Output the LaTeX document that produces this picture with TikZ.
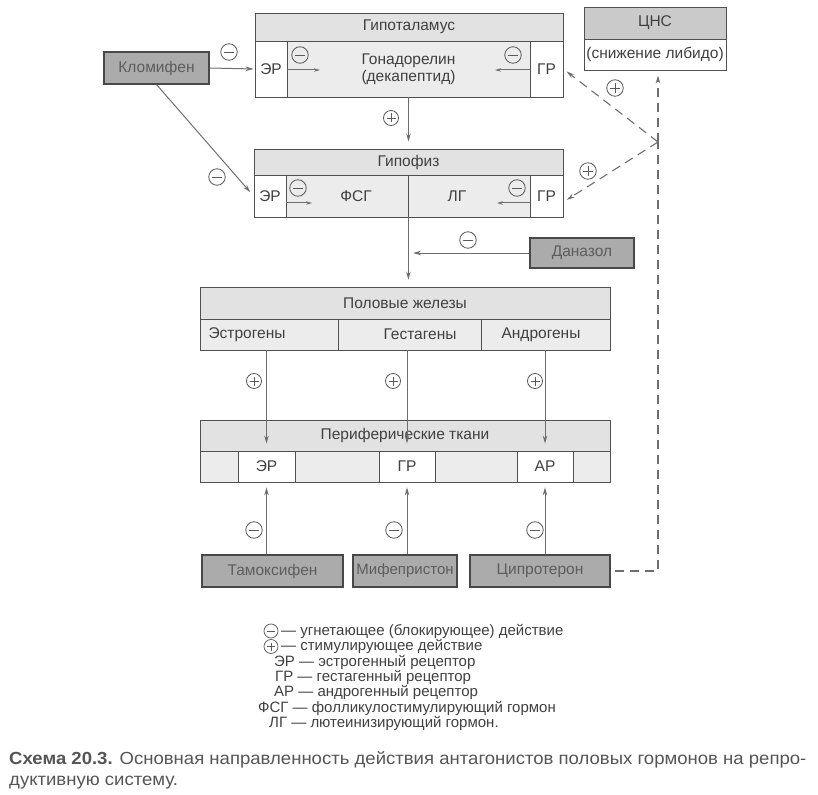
\documentclass[tikz,border=0pt]{standalone}
\usepackage{fontspec}
\setmainfont{Liberation Sans}
\newfontfamily\capfont[FakeStretch=1.06]{Liberation Sans}
\usetikzlibrary{arrows.meta,calc}
\definecolor{txt}{HTML}{404040}
\definecolor{bord}{HTML}{505050}
\definecolor{linec}{HTML}{6E6E6E}
\definecolor{sgn}{HTML}{5A5A5A}
\definecolor{hdrc}{HTML}{E2E2E2}
\definecolor{midcol}{HTML}{ECECEC}
\definecolor{drugc}{HTML}{ABABAB}
\definecolor{cnsc}{HTML}{CACACA}
\definecolor{capc}{HTML}{555555}
\begin{document}
\begin{tikzpicture}[x=1pt,y=-1pt,
  every node/.style={font=\fontsize{15.5}{17}\selectfont, text=txt},
  cellbase/.style={draw=bord, line width=0.8pt, inner sep=0pt, rectangle},
  hdr/.style={cellbase, fill=hdrc},
  midc/.style={cellbase, fill=midcol},
  recep/.style={cellbase, fill=white},
  cnsh/.style={cellbase, fill=cnsc},
  drug/.style={cellbase, fill=drugc, line width=1.1pt, draw=bord!90!black, text=txt!85},
  lbl/.style={inner sep=0pt},
  leg/.style={inner sep=0pt, font=\fontsize{15}{17}\selectfont},
  arr/.style={draw=linec, line width=1pt, -{Stealth[length=8pt,width=4.5pt]}},
  dsh/.style={draw=linec, line width=1.1pt, dash pattern=on 9pt off 6pt},
  signm/.style={circle, draw=sgn, line width=0.85pt, minimum size=16.5pt, inner sep=0pt,
    path picture={\draw[sgn, line width=0.9pt] ([xshift=3pt]path picture bounding box.west) -- ([xshift=-3pt]path picture bounding box.east);}},
  signp/.style={signm,
    path picture={\draw[sgn, line width=0.9pt] ([xshift=3pt]path picture bounding box.west) -- ([xshift=-3pt]path picture bounding box.east);
      \draw[sgn, line width=0.9pt] ([yshift=-3pt]path picture bounding box.north) -- ([yshift=3pt]path picture bounding box.south);}}
]
\useasboundingbox (0,0) rectangle (818,794);

% ---------- Hypothalamus ----------
\node[hdr, minimum width=308, minimum height=28] (hyH) at (409,27) {Гипоталамус};
\node[recep, minimum width=32, minimum height=56] (hyER) at (271,69) {ЭР};
\node[midc, minimum width=243, minimum height=56, align=center] (hyM) at (408.5,69) {Гонадорелин\\(декапептид)};
\node[recep, minimum width=33, minimum height=56] (hyGR) at (546.5,69) {ГР};

% ---------- CNS ----------
\node[cnsh, minimum width=142, minimum height=32] (cnsH) at (655,23) {ЦНС};
\node[recep, minimum width=142, minimum height=31] (cns) at (655,54.5) {(снижение либидо)};

% ---------- Hypophysis ----------
\node[hdr, minimum width=309, minimum height=26] (hpH) at (408.5,162) {Гипофиз};
\node[recep, minimum width=32, minimum height=42] (hpER) at (270,196) {ЭР};
\node[midc, minimum width=122, minimum height=42] (hpF) at (347,196) {};
\node[midc, minimum width=122, minimum height=42] (hpL) at (469,196) {};
\node[recep, minimum width=33, minimum height=42] (hpGR) at (546.5,196) {ГР};
\node[lbl] (tF) at (356,196) {ФСГ};
\node[lbl] (tL) at (457,196) {ЛГ};

% ---------- Drugs top ----------
\node[drug, minimum width=105, minimum height=32] (klom) at (156.5,68) {Кломифен};
\node[drug, minimum width=104, minimum height=30] (dan) at (582,253) {Даназол};

% ---------- Gonads ----------
\node[hdr, minimum width=410, minimum height=32] (goH) at (405,303) {Половые железы};
\node[midc, minimum width=138, minimum height=31] (goE) at (269,334.5) {};
\node[midc, minimum width=143, minimum height=31] (goG) at (409.5,334.5) {};
\node[midc, minimum width=129, minimum height=31] (goA) at (545.5,334.5) {};
\node[lbl] (tE) at (247,334.5) {Эстрогены};
\node[lbl] (tG) at (420,334.5) {Гестагены};
\node[lbl] (tA) at (541,334.5) {Андрогены};

% ---------- Peripheral tissues ----------
\node[hdr, minimum width=410, minimum height=31] (peH) at (405,435.5) {Периферические ткани};
\node[midc, minimum width=410, minimum height=31] (peB) at (405,466.5) {};
\node[recep, minimum width=57, minimum height=31] (peER) at (266.5,466.5) {ЭР};
\node[recep, minimum width=56, minimum height=31] (peGR) at (407,466.5) {ГР};
\node[recep, minimum width=56, minimum height=31] (peAR) at (545,466.5) {АР};

% ---------- Drugs bottom ----------
\node[drug, minimum width=141, minimum height=32] (tam) at (272.5,571) {Тамоксифен};
\node[drug, minimum width=104, minimum height=32, font=\fontsize{15}{17}\selectfont] (mif) at (405,571) {Мифепристон};
\node[drug, minimum width=140, minimum height=32] (cip) at (540,571) {Ципротерон};

% ---------- connectors ----------
\draw[arr, shorten >=1pt] (klom.east) -- (hyER.west);
\draw[arr, shorten >=5pt] (klom.south) -- (hpER.west);
\draw[arr, shorten >=7pt] (hyM.south) -- (hpH.north);
\draw[arr, shorten >=7pt] (hpF.south east) -- (goH.north -| hpF.south east);
\coordinate (danEnd) at (413,253);
\draw[arr] (dan.west) -- (danEnd);

% inner arrows
\coordinate (ia1) at (320,70);
\coordinate (ia2) at (495,70);
\coordinate (ib1) at (312,203);
\coordinate (ib2) at (497,203);
\draw[arr, -{Stealth[length=6pt,width=3.5pt]}] (hyER.east |- ia1) -- (ia1);
\draw[arr, -{Stealth[length=6pt,width=3.5pt]}] (hyGR.west |- ia2) -- (ia2);
\draw[arr, -{Stealth[length=6pt,width=3.5pt]}] (hpER.east |- ib1) -- (ib1);
\draw[arr, -{Stealth[length=6pt,width=3.5pt]}] (hpGR.west |- ib2) -- (ib2);

% gonads -> peripheral
\draw[arr, shorten >=7pt] (goE.south -| peER) -- (peER.north);
\draw[arr, shorten >=7pt] (goG.south -| peGR) -- (peGR.north);
\draw[arr, shorten >=7pt] (goA.south -| peAR) -- (peAR.north);

% drugs -> receptors
\draw[arr, shorten >=5pt] (tam.north -| peER) -- (peER.south);
\draw[arr, shorten >=5pt] (mif.north -| peGR) -- (peGR.south);
\draw[arr, shorten >=5pt] (cip.north -| peAR) -- (peAR.south);

% dashed
\coordinate (jn) at (658,142);
\coordinate (crn) at (658,571);
\draw[dsh] ([xshift=4pt]cip.east) -- (crn) -- (jn);
\draw[dsh, -{Stealth[length=8pt,width=4.5pt]}, shorten >=5pt] (jn) -- (cns.south -| jn);
\draw[dsh, -{Stealth[length=8pt,width=4.5pt]}, shorten >=4pt] (jn) -- (hyGR.east);
\draw[dsh, -{Stealth[length=8pt,width=4.5pt]}, shorten >=4pt] (jn) -- ([yshift=-6pt]hpGR.east);

% ---------- signs ----------
\node[signm] (s1) at (229,52) {};
\node[signm] (s2) at (217,177) {};
\node[signp, minimum size=15pt] (s3) at (391,118) {};
\node[signp] (s4) at (615,88) {};
\node[signp] (s5) at (588,171) {};
\node[signm] (s6) at (300,55) {};
\node[signm] (s7) at (513,55) {};
\node[signm] (s8) at (298,188) {};
\node[signm] (s9) at (517,188) {};
\node[signm] (s10) at (468,240) {};
\node[signp, minimum size=15pt] (s11) at (254,381) {};
\node[signp, minimum size=15pt] (s12) at (393,381) {};
\node[signp, minimum size=15pt] (s13) at (535,381) {};
\node[signm] (s14) at (254,530) {};
\node[signm] (s15) at (394,530) {};
\node[signm] (s16) at (535,530) {};

% ---------- legend ----------
\node[signm, minimum size=14pt, line width=0.75pt] (lm) at (271,631) {};
\node[leg, anchor=west] (l1) at (281,631) {— угнетающее (блокирующее) действие};
\node[signp, minimum size=14pt, line width=0.75pt] (lp) at (271,646.5) {};
\node[leg, anchor=west] (l2) at (281,646) {— стимулирующее действие};
\node[leg, anchor=west] (l3) at (274,662) {ЭР — эстрогенный рецептор};
\node[leg, anchor=west] (l4) at (275,677) {ГР — гестагенный рецептор};
\node[leg, anchor=west] (l5) at (274,692) {АР — андрогенный рецептор};
\node[leg, anchor=west] (l6) at (258,708) {ФСГ — фолликулостимулирующий гормон};
\node[leg, anchor=west] (l7) at (269,723) {ЛГ — лютеинизирующий гормон.};

% ---------- caption ----------
\node[lbl, anchor=north west, align=left, text=capc, font=\capfont\fontsize{17.5}{21}\selectfont] (cap) at (9,751)
  {\textbf{Схема 20.3.} Основная направленность действия антагонистов половых гормонов на репро-\\дуктивную систему.};
\end{tikzpicture}
\end{document}
